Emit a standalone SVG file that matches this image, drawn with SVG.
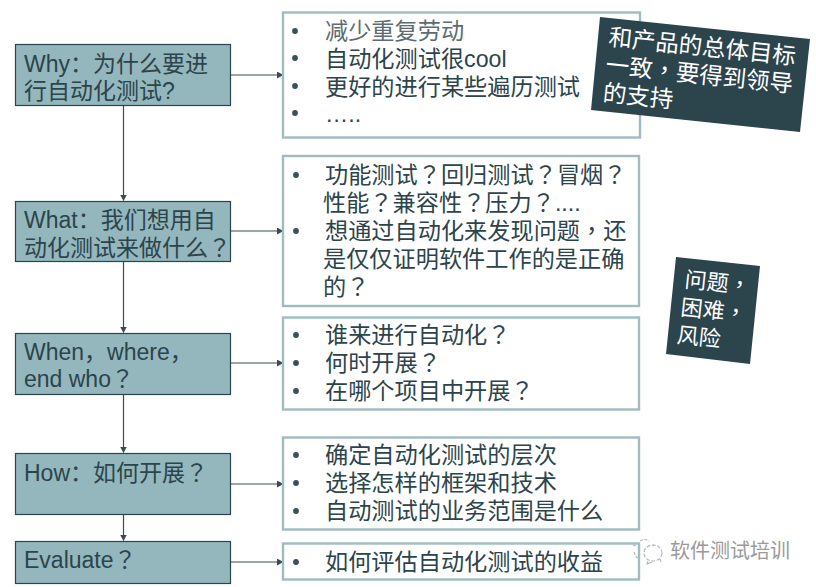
<svg xmlns="http://www.w3.org/2000/svg" width="816" height="587" viewBox="0 0 816 587">
<style>
text{font-family:"Liberation Sans","Noto Sans CJK SC",sans-serif;fill:#2c444c;text-spacing-trim:space-all}
.l{font-size:23px}
.r{font-size:23.200px}
.q{font-family:"Noto Sans CJK TC",sans-serif}
.lb{fill:#93b7bd;stroke:#2c444c;stroke-width:1.200}
.rb{fill:#fff;stroke:#9fbcbf;stroke-width:2.400}
.dk{fill:#2c444c}
.n1{fill:#fff;font-size:23.500px}
.n2{fill:#fff;font-size:22px}
.bul{fill:#3a5057}
.c{stroke:#3a4c52;stroke-width:1.200;fill:none;marker-end:url(#a)}
</style>
<defs>
<marker id="a" markerUnits="userSpaceOnUse" markerWidth="7" markerHeight="7" refX="6" refY="3.500" orient="auto"><path d="M0 0L6.500 3.500L0 7Z" fill="#3a4c52"/></marker>
<circle id="b" r="2.900" class="bul"/>
</defs>
<rect width="816" height="587" fill="#fff"/>
<g id="connectors">
<path class="c" d="M123.500 105.500V200.500"/>
<path class="c" d="M123.500 261.500V332.500"/>
<path class="c" d="M123.500 394.500V452.500"/>
<path class="c" d="M123.500 514.500V540.500"/>
<path class="c" d="M230.500 75H283"/>
<path class="c" d="M231 231H283"/>
<path class="c" d="M231 363H283"/>
<path class="c" d="M230.500 484H283"/>
<path class="c" d="M230.500 562H283"/>
</g>
<g id="why"><rect class="lb" x="15.500" y="44.500" width="215" height="61"/><text class="l" x="24" y="72">Why：为什么要进</text><text class="l" x="24" y="99">行自动化测试?</text></g>
<g id="what"><rect class="lb" x="15.500" y="201.500" width="215" height="60"/><text class="l" x="24" y="228">What：我们想用自</text><text class="l" x="24" y="256">动化测试来做什么<tspan class="q">？</tspan></text></g>
<g id="when"><rect class="lb" x="15.500" y="333.500" width="215" height="61"/><text class="l" x="24" y="360">When，where，</text><text class="l" x="24" y="387">end who<tspan class="q">？</tspan></text></g>
<g id="how"><rect class="lb" x="15.500" y="453.500" width="215" height="61"/><text class="l" x="24" y="481">How：如何开展<tspan class="q">？</tspan></text></g>
<g id="evaluate"><rect class="lb" x="15.500" y="541.500" width="215" height="42"/><text class="l" x="24" y="568">Evaluate<tspan class="q">？</tspan></text></g>
<g id="why-detail"><rect class="rb" x="283" y="12.500" width="357" height="125"/>
<use href="#b" x="295" y="31"/><use href="#b" x="295" y="58"/><use href="#b" x="295" y="86"/><use href="#b" x="295" y="113"/>
<text class="r" x="325" y="39" style="fill:#5c6c72">减少重复劳动</text><text class="r" x="325" y="67">自动化测试很cool</text><text class="r" x="325" y="95">更好的进行某些遍历测试</text><text class="r" x="325" y="122">…..</text></g>
<g id="what-detail"><rect class="rb" x="283" y="156" width="356" height="150"/>
<use href="#b" x="296" y="175"/><use href="#b" x="296" y="231"/>
<text class="r" x="325" y="183">功能测试<tspan class="q">？</tspan>回归测试<tspan class="q">？</tspan>冒烟<tspan class="q">？</tspan></text><text class="r" x="323" y="211">性能<tspan class="q">？</tspan>兼容性<tspan class="q">？</tspan>压力<tspan class="q">？</tspan>....</text><text class="r" x="325" y="239">想通过自动化来发现问题<tspan class="q">，</tspan>还</text><text class="r" x="323" y="267">是仅仅证明软件工作的是正确</text><text class="r" x="323" y="295">的<tspan class="q">？</tspan></text></g>
<g id="when-detail"><rect class="rb" x="283" y="317.500" width="356" height="92"/>
<use href="#b" x="296" y="335"/><use href="#b" x="296" y="363"/><use href="#b" x="296" y="391"/>
<text class="r" x="325" y="343">谁来进行自动化<tspan class="q">？</tspan></text><text class="r" x="325" y="371">何时开展<tspan class="q">？</tspan></text><text class="r" x="325" y="399">在哪个项目中开展<tspan class="q">？</tspan></text></g>
<g id="how-detail"><rect class="rb" x="283" y="437.500" width="356" height="92"/>
<use href="#b" x="296" y="455"/><use href="#b" x="296" y="483"/><use href="#b" x="296" y="511"/>
<text class="r" x="325" y="463">确定自动化测试的层次</text><text class="r" x="325" y="491">选择怎样的框架和技术</text><text class="r" x="325" y="519">自动测试的业务范围是什么</text></g>
<g id="evaluate-detail"><rect class="rb" x="283" y="543.500" width="356" height="36"/>
<use href="#b" x="296" y="562"/>
<text class="r" x="325" y="570">如何评估自动化测试的收益</text></g>
<g id="goal-note"><polygon class="dk" points="600,17 810,39 800,132 591,110"/>
<g transform="rotate(6 608 45)"><text class="n1" x="608" y="45">和产品的总体目标</text><text class="n1" x="608" y="73">一致<tspan class="q">，</tspan>要得到领导</text><text class="n1" x="608" y="101">的支持</text></g></g>
<g id="risk-note"><polygon class="dk" points="676,257 760,266 750,364 666,354"/>
<g transform="rotate(6 684 287)"><text class="n2" x="684" y="287">问题<tspan class="q">，</tspan></text><text class="n2" x="683" y="315">困难<tspan class="q">，</tspan></text><text class="n2" x="682" y="343">风险</text></g></g>
<g id="watermark" fill="none" stroke="#b5b5b5" stroke-width="1.100">
<path d="M633 545l3 1M640 541c3-2 7-2 9 0M653 545l1 1M634 552c1 3 2 5 5 7" stroke-dasharray="3 1.500"/>
<ellipse cx="653" cy="553" rx="9" ry="8" stroke-dasharray="4 1.500"/>
<path d="M648 561l-1 3 5-2M660 559l1 3"/>
<text x="670" y="558" style="fill:#9a9a9a;font-size:20px;stroke:none">软件测试培训</text>
</g>
</svg>
